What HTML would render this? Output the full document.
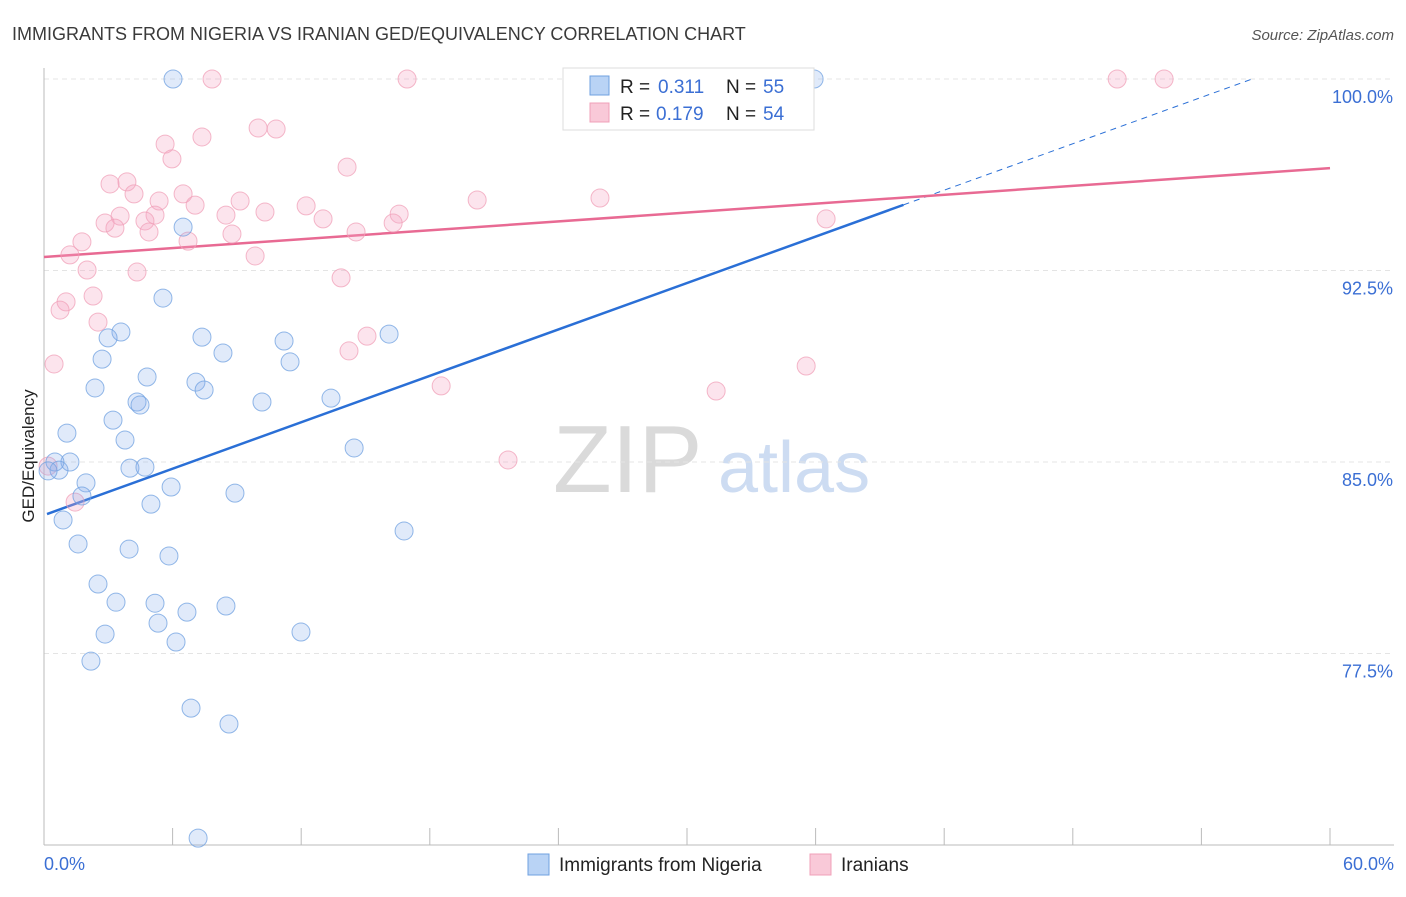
<!DOCTYPE html>
<html><head><meta charset="utf-8"><style>
body{margin:0;background:#fff;font-family:"Liberation Sans",sans-serif;}
svg text{font-family:"Liberation Sans",sans-serif;}
</style></head><body>
<svg id="chart" width="1406" height="892">
<text x="12" y="40" font-size="18" fill="#3a3a3a">IMMIGRANTS FROM NIGERIA VS IRANIAN GED/EQUIVALENCY CORRELATION CHART</text>
<text x="1394" y="40" font-size="15" fill="#555" font-style="italic" text-anchor="end">Source: ZipAtlas.com</text>
<g>
<text x="553" y="492" font-size="96" fill="#dadada" font-family="Liberation Serif">ZIP</text>
<text x="718" y="492" font-size="72" fill="#cddcf2">atlas</text>
</g>
<g id="grid"></g>
<g id="axes"></g>
<g id="lines"></g>
<g id="points"></g>
<text transform="translate(34,456) rotate(-90)" font-size="17" fill="#222" text-anchor="middle">GED/Equivalency</text>
<text x="44" y="870" font-size="18" fill="#3b6fd4">0.0%</text>
<text x="1394" y="870" font-size="18" fill="#3b6fd4" text-anchor="end">60.0%</text>
<g>
<rect x="563" y="68" width="251" height="62" fill="#fff" stroke="#ddd"/>
<rect x="590" y="76" width="19" height="19" fill="#b9d3f5" stroke="#6fa0e0"/>
<text x="620" y="93" font-size="19" fill="#222">R = </text><text x="658" y="93" font-size="19" fill="#3b6fd4">0.311</text>
<text x="726" y="93" font-size="19" fill="#222">N = </text><text x="763" y="93" font-size="19" fill="#3b6fd4">55</text>
<rect x="590" y="103" width="19" height="19" fill="#f9c9d8" stroke="#f0a0b8"/>
<text x="620" y="120" font-size="19" fill="#222">R = </text><text x="656" y="120" font-size="19" fill="#3b6fd4">0.179</text>
<text x="726" y="120" font-size="19" fill="#222">N = </text><text x="763" y="120" font-size="19" fill="#3b6fd4">54</text>
</g>
<g>
<rect x="528" y="854" width="21" height="21" fill="#b9d3f5" stroke="#6fa0e0"/>
<text x="559" y="871" font-size="19" fill="#222">Immigrants from Nigeria</text>
<rect x="810" y="854" width="21" height="21" fill="#f9c9d8" stroke="#f0a0b8"/>
<text x="841" y="871" font-size="19" fill="#222">Iranians</text>
</g>
</svg>
<script>
const yTicks=[100,92.5,85,77.5];
const yTickLabels=["100.0%","92.5%","85.0%","77.5%"];
const xTicks=[0,6,12,18,24,30,36,42,48,54,60];
const nigeriaX=[6.02,35.93,6.49,5.55,3.59,2.99,7.37,11.2,16.1,2.71,8.35,11.48,4.81,2.38,7.09,7.47,13.39,10.17,4.34,4.48,3.22,1.07,3.78,14.47,1.21,0.51,0.7,0.19,4.01,4.71,1.96,5.93,8.91,1.77,4.99,0.89,16.8,1.59,3.97,5.83,2.52,3.36,5.18,8.49,6.67,5.32,11.99,2.85,6.16,2.19,6.86,8.63,7.19];
const nigeriaY=[100,100,94.2,91.42,90.09,89.86,89.89,89.74,90.01,89.03,89.27,88.92,88.33,87.9,88.13,87.82,87.5,87.35,87.35,87.23,86.64,86.13,85.86,85.55,85,85,84.68,84.65,84.76,84.8,84.18,84.02,83.78,83.67,83.35,82.73,82.3,81.79,81.59,81.32,80.22,79.51,79.47,79.36,79.12,78.69,78.34,78.26,77.95,77.2,75.36,74.74,70.27];
const iranX=[7.84,16.94,50.07,52.26,9.99,10.83,7.37,5.65,5.97,14.14,3.87,3.08,4.2,6.49,5.37,9.15,7.05,12.23,20.21,25.94,3.55,5.18,2.85,10.31,8.49,16.57,4.71,3.31,13.02,16.29,4.9,8.77,14.56,6.72,36.49,1.77,1.21,9.85,2.01,4.34,13.86,2.29,1.03,0.75,2.52,15.07,14.23,0.47,35.56,18.53,31.36,21.65,1.45,0.19];
const iranY=[100,100,100,100,98.08,98.04,97.73,97.45,96.87,96.55,95.97,95.89,95.5,95.5,95.22,95.22,95.06,95.03,95.26,95.34,94.63,94.67,94.36,94.79,94.67,94.71,94.44,94.16,94.52,94.36,94.01,93.93,94.01,93.65,94.52,93.62,93.11,93.07,92.52,92.44,92.21,91.5,91.27,90.95,90.48,89.93,89.35,88.84,88.76,87.98,87.78,85.08,83.43,84.84];
const nigeriaFit=[82.92,0.303];
const iranFit=[93.03,0.058];
const X0=44,X1=1330,YTOP=79,YSPAN=191.5;
const sx=v=>X0+(v/60)*(X1-X0);
const sy=v=>YTOP+(100-v)/7.5*YSPAN;
const NS='http://www.w3.org/2000/svg';
function mk(tag,attrs,parent){const e=document.createElementNS(NS,tag);for(const k in attrs)e.setAttribute(k,attrs[k]);document.getElementById(parent).appendChild(e);return e;}
yTicks.forEach((t,i)=>{
 const l=mk('line',{x1:X0,x2:1394,y1:sy(t),y2:sy(t),stroke:'#e4e4e4','stroke-dasharray':'5,4'},'grid');
 
 
 const tx=mk('text',{x:1393,y:sy(t)+24,'font-size':18,fill:'#3b6fd4','text-anchor':'end'},'grid');
 tx.textContent=yTickLabels[i];
 
 
});
const ya=mk('line',{x1:X0,x2:X0,y1:68,y2:845,stroke:'#bbb'},'axes');


const xa=mk('line',{x1:X0,x2:1394,y1:845,y2:845,stroke:'#bbb'},'axes');


xTicks.forEach(t=>{
 const k=mk('line',{x1:sx(t),x2:sx(t),y1:828,y2:845,stroke:'#bbb'},'axes');
 
 
});
function line(fit,a,b,col,w,dash,name){
 const e=mk('line',{x1:sx(a),y1:sy(fit[0]+fit[1]*a),x2:sx(b),y2:sy(fit[0]+fit[1]*b),stroke:col,'stroke-width':w},'lines');
 if(dash)e.setAttribute('stroke-dasharray',dash);
 
 
}
line(nigeriaFit,0.14,40.1,'#2a6fd6',2.5,null,'nigeria-trend-line');
line(nigeriaFit,40.1,56.3,'#2a6fd6',1,'6,5','nigeria-trend-extension');
line(iranFit,0,60,'#e86a93',2.5,null,'iranians-trend-line');
function pts(xs,ys,fill,stroke,name){
 xs.forEach((x,i)=>{
  const c=mk('circle',{cx:sx(x),cy:sy(ys[i]),r:9,fill:fill,stroke:stroke,'stroke-width':1,'stroke-opacity':0.75},'points');
  
  
 });
}
pts(iranX,iranY,'rgba(244,165,195,0.3)','#f0a0b8','iranians-point');
pts(nigeriaX,nigeriaY,'rgba(130,170,235,0.25)','#6fa0e0','nigeria-point');
</script>
</body></html>
